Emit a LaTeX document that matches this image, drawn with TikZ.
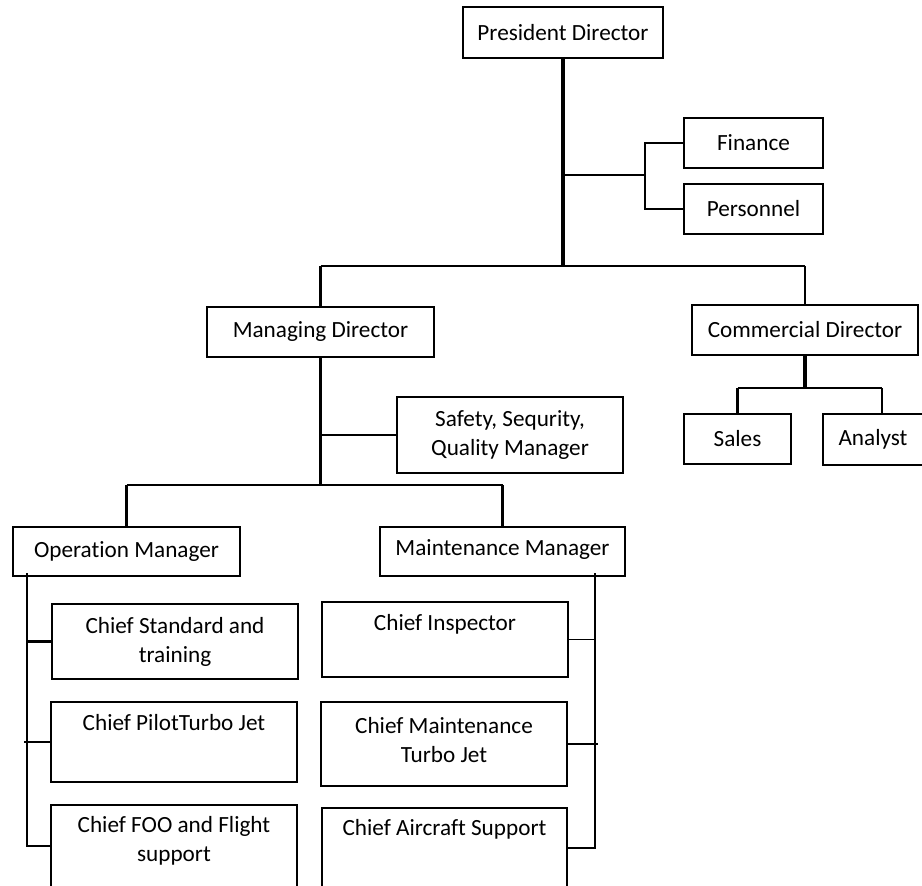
\documentclass[tikz,border=0pt]{standalone}
\usepackage{fontspec}
\setmainfont[Ligatures=NoCommon]{Carlito}
\usetikzlibrary{fit,calc}
\begin{document}
\begin{tikzpicture}[x=0.75pt,y=-0.75pt,
  box/.style={draw, line width=1.4pt, inner sep=0pt},
  txt/.style={inner sep=0pt, align=center, font=\fontsize{17.4}{21.8}\selectfont},
  thickline/.style={line width=2.3pt},
  medline/.style={line width=1.6pt},
  thinline/.style={line width=1pt}]
\useasboundingbox (0,0) rectangle (922,886);
\clip (0,0) rectangle (922,886);
% boxes
\node[box, fit={(463,7) (663,58)}] (pres) {};
\node[txt] (prestxt) at (pres.center) {President Director};
\node[box, fit={(684,118) (823,168)}] (fin) {};
\node[txt] (fintxt) at (fin.center) {Finance};
\node[box, fit={(684,184) (823,234)}] (pers) {};
\node[txt] (perstxt) at (pers.center) {Personnel};
\node[box, fit={(207,307) (434,357)}] (md) {};
\node[txt] (mdtxt) at (md.center) {Managing Director};
\node[box, fit={(692,305) (918,355)}] (cd) {};
\node[txt] (cdtxt) at (cd.center) {Commercial Director};
\node[box, fit={(397,397) (623,473)}] (safe) {};
\node[txt] (safetxt) at (safe.center) {Safety, Sequrity,\\Quality Manager};
\node[box, fit={(684,414) (791,464)}] (sales) {};
\node[txt] (salestxt) at (sales.center) {Sales};
\node[box, fit={(823,414) (931,465)}] (analyst) {};
\node[txt] (analysttxt) at ($(analyst.center)+(-4,0)$) {Analyst};
\node[box, fit={(13,527) (240,576)}] (op) {};
\node[txt] (optxt) at (op.center) {Operation Manager};
\node[box, fit={(380,527) (625,576)}] (mm) {};
\node[txt] (mmtxt) at ($(mm.center)+(0,-2)$) {Maintenance Manager};
\node[box, fit={(52,604) (298,679)}] (cst) {};
\node[txt] (csttxt) at (cst.center) {Chief Standard and\\training};
\node[box, fit={(51,702) (297,782)}] (cpt) {};
\node[txt] (cpttxt) at ($(cpt.north)+(0,21)$) {Chief PilotTurbo Jet};
\node[box, fit={(51,805) (297,910)}] (cfoo) {};
\node[txt] (cfootxt) at ($(cfoo.north)+(0,37)$) {Chief FOO and Flight\\support};
\node[box, fit={(322,602) (568,677)}] (ci) {};
\node[txt] (citxt) at ($(ci.north)+(0,23)$) {Chief Inspector};
\node[box, fit={(321,702) (567,786)}] (cmt) {};
\node[txt] (cmttxt) at ($(cmt.center)+(0,-4)$) {Chief Maintenance\\Turbo Jet};
\node[box, fit={(322,808) (567,910)}] (cas) {};
\node[txt] (castxt) at ($(cas.north)+(0,22)$) {Chief Aircraft Support};
% junction coordinates
\coordinate (bus) at (563,266);
\coordinate (fp) at (645,175);
\coordinate (opbus) at (321,485);
\coordinate (cbus) at (804,388);
\coordinate (oa) at (27,573);
\coordinate (ob) at (27,846);
\coordinate (ma) at (595,573);
\coordinate (mb) at (595,848);
% president
\draw[thickline] (pres.south) -- (pres.south |- bus);
\draw[medline] (md.north |- bus) -- (cd.north |- bus);
\draw[medline] (md.north |- bus) -- (md.north);
\draw[medline] (cd.north |- bus) -- (cd.north);
\draw[medline] (pres.south |- fp) -- (fp);
\draw[thinline] (fin.west) -- (fin.west -| fp) -- (pers.west -| fp) -- (pers.west);
% managing director
\draw[medline] (md.south) -- (md.south |- opbus);
\draw[medline] (safe.west -| md.south) -- (safe.west);
\draw[medline] (op.north |- opbus) -- (mm.north |- opbus);
\draw[medline] (op.north |- opbus) -- (op.north);
\draw[medline] (mm.north |- opbus) -- (mm.north);
% commercial
\draw[thickline] (cd.south) -- (cd.south |- cbus);
\draw[medline] (sales.north |- cbus) -- ($(analyst.north |- cbus)+(5,0)$);
\draw[medline] (sales.north |- cbus) -- (sales.north);
\draw[medline] ($(analyst.north |- cbus)+(5,0)$) -- ($(analyst.north)+(5,0)$);
% operation
\draw[medline] (oa) -- (ob) -- (ob -| cfoo.west);
\draw[medline] (cst.west -| oa) -- (cst.west);
\draw[medline] ($(cpt.west -| oa)+(-3,0)$) -- (cpt.west);
% maintenance
\draw[medline] (ma) -- (mb) -- (mb -| cas.east);
\draw[thinline] (ci.east) -- (ci.east -| ma);
\draw[medline] (cmt.east) -- ($(cmt.east -| ma)+(3,0)$);
\end{tikzpicture}
\end{document}
